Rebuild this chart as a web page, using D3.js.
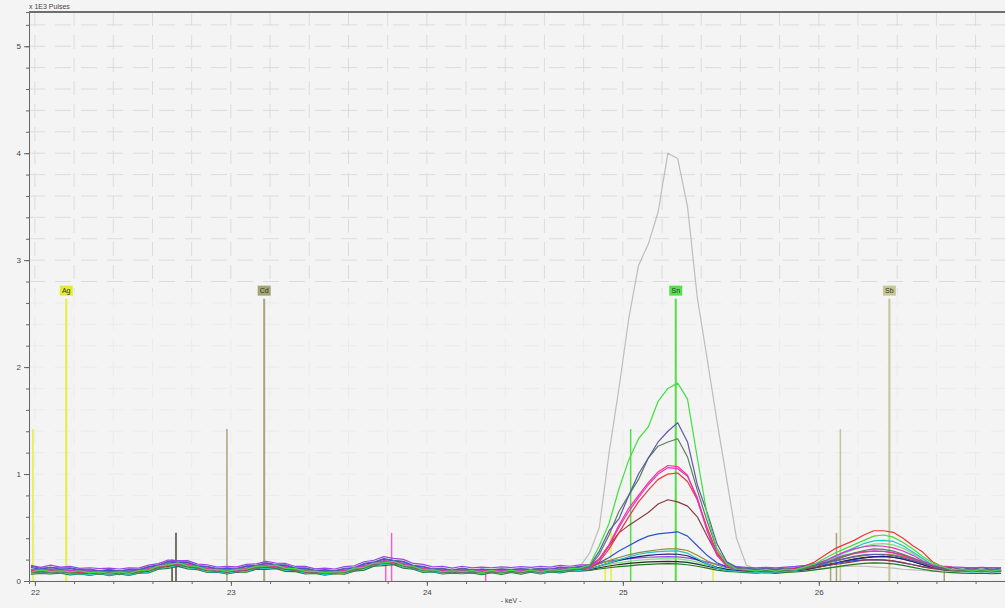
<!DOCTYPE html>
<html>
<head>
<meta charset="utf-8">
<script src="https://cdn.jsdelivr.net/npm/d3@7"></script>
<style>
  body { margin: 0; background: #f4f4f4; }
  svg { display: block; font-family: "Liberation Sans", Arial, sans-serif; }
  .axis text { font-size: 8px; fill: #444; }
  .axis path, .axis line { stroke: #666; }
</style>
</head>
<body>
<svg id="chart" width="1005" height="608"></svg>
<script>
  // channel energies (keV), 0.05 keV apart
  var energy = d3.range(100).map(function(i) { return +(21.98 + i * 0.05).toFixed(2); });

  // pulses per channel, one array per measurement
  var sGray = [100,88,97,84,92,80,86,72,81,70,84,85,110,122,156,150,149,118,110,92,
    98,92,116,122,142,128,124,98,96,80,84,74,92,100,134,146,178,160,152,118,
    110,90,96,80,96,82,90,84,92,86,94,88,96,90,104,104,130,260,500,1200,
    1800,2450,2950,3150,3450,4000,3950,3500,2650,2080,1500,950,400,150,110,98,92,100,96,104,
    110,120,128,136,140,138,132,126,120,110,104,98,92,96,90,94,88,92,90,96];
  var sGreen = [82,104,88,94,86,96,76,86,70,86,72,98,102,142,150,170,142,136,104,108,
    90,108,110,140,138,150,118,116,90,92,76,86,86,120,128,168,170,184,146,138,
    104,106,86,96,88,98,80,100,82,102,84,104,86,106,98,116,120,150,330,540,
    860,1130,1330,1440,1680,1800,1850,1700,1150,620,300,160,112,108,92,110,90,112,104,132,
    160,210,260,300,340,380,420,430,410,360,300,230,170,136,104,112,92,108,90,106];
  var sNavy = [138,118,128,120,124,106,112,96,110,92,110,106,134,150,184,178,178,144,138,116,
    124,118,142,146,170,154,152,122,122,100,106,98,118,126,164,178,210,194,184,146,
    138,114,118,102,120,104,112,106,114,108,116,110,118,112,130,122,138,140,280,470,
    580,800,1000,1150,1300,1400,1480,1300,900,640,350,180,130,118,112,118,112,120,124,136,
    150,170,190,210,230,245,250,248,236,216,190,164,140,120,126,110,122,108,124,114];
  var sSlate = [90,74,92,72,88,70,78,62,76,60,78,74,102,114,148,144,146,112,106,84,
    92,84,110,114,138,122,120,92,94,72,78,68,88,94,130,142,174,158,148,112,
    106,84,90,74,92,76,84,78,86,80,88,82,90,84,100,94,112,130,250,430,
    650,800,950,1150,1260,1300,1330,1160,850,560,300,170,120,100,94,98,92,100,104,118,
    140,170,200,230,260,285,300,295,280,250,215,175,140,116,104,98,94,98,92,96];
  var sMagenta = [110,92,112,94,100,92,96,80,88,80,90,90,118,132,166,160,160,126,120,98,
    106,100,124,130,154,138,134,106,106,84,92,78,102,110,146,160,192,176,166,128,
    122,98,104,88,106,90,98,92,100,94,102,96,104,98,114,106,118,120,200,330,
    500,650,780,900,1000,1060,1050,980,780,480,250,140,110,104,100,104,98,106,110,124,
    150,190,230,270,300,320,330,325,310,280,240,190,150,124,110,104,100,104,98,102];
  var sPink = [96,102,94,100,92,88,84,80,84,78,82,94,110,134,156,164,150,130,110,100,
    98,102,114,132,144,140,124,108,96,88,82,86,94,114,138,164,184,180,158,132,
    114,102,96,92,98,94,90,96,92,98,94,100,96,102,106,110,116,124,210,340,
    520,680,800,920,1020,1080,1070,990,760,470,240,140,112,102,98,102,96,104,108,120,
    140,170,200,230,255,270,280,276,262,236,204,166,134,116,106,100,96,100,94,98];
  var sRed = [86,92,88,94,78,86,70,88,68,84,68,92,96,132,142,160,136,128,98,100,
    84,102,102,130,130,138,110,106,84,88,70,84,82,112,124,162,170,178,144,132,
    102,102,84,92,86,94,78,96,80,98,82,100,84,102,94,110,110,116,180,300,
    450,600,740,850,950,1000,1010,930,760,500,270,150,118,106,102,108,102,110,120,140,
    180,240,300,340,380,430,470,470,455,400,330,270,180,134,126,106,112,104,110,102];
  var sBrown = [100,94,102,96,90,86,82,86,80,84,80,92,108,132,154,160,148,128,110,100,
    96,100,112,130,142,138,122,106,94,86,80,82,92,110,134,160,180,176,154,128,
    110,100,94,90,96,92,88,94,90,96,92,98,94,100,104,110,130,150,200,330,
    450,520,580,640,720,760,740,700,600,420,250,150,112,102,98,102,96,104,108,116,
    126,140,154,168,182,194,200,198,188,172,152,132,116,106,100,96,92,96,90,94];
  var sBlue = [126,108,128,110,116,98,104,96,102,94,104,102,130,144,178,172,172,138,132,110,
    118,112,136,140,164,148,144,116,116,94,100,92,112,120,158,172,204,188,178,140,
    132,110,114,98,116,100,108,102,110,104,112,106,114,108,124,116,128,130,170,220,
    280,330,380,420,440,450,460,420,330,240,170,130,118,112,108,112,106,114,118,126,
    138,152,166,178,190,198,200,196,186,170,152,134,120,112,108,104,100,106,102,108];
  var sCyan = [72,78,74,80,64,72,56,72,54,70,56,78,82,118,128,146,122,114,86,88,
    72,90,90,118,118,126,98,96,74,78,60,74,70,100,112,148,156,164,130,118,
    88,90,72,80,74,82,66,84,68,86,70,88,72,90,82,98,100,110,140,170,
    200,225,250,265,275,280,282,260,210,160,120,100,90,84,80,86,82,90,98,112,
    140,180,230,270,310,350,375,380,370,330,270,210,150,112,96,90,86,90,84,88];
  var sOlive = [110,104,112,106,100,96,92,96,90,94,90,100,116,140,162,168,156,136,118,108,
    104,108,120,138,150,146,130,114,102,94,88,90,100,118,142,168,188,184,162,136,
    118,108,102,98,104,100,96,102,98,104,100,106,102,108,112,116,122,126,160,190,
    220,245,265,280,292,300,300,285,240,190,150,124,112,106,102,106,100,108,112,122,
    140,160,182,204,222,238,248,250,244,228,202,172,142,120,110,106,102,106,100,104];
  var sDarkNavy = [88,82,90,84,80,76,72,76,70,74,70,80,96,120,142,148,136,116,98,88,
    84,90,102,118,130,126,110,94,84,76,70,72,82,100,124,150,170,166,144,120,
    102,92,86,82,88,84,80,86,82,88,84,90,86,92,96,100,108,112,140,168,
    192,212,228,240,248,252,250,236,200,160,128,108,98,92,88,92,86,94,98,108,
    124,144,166,186,204,218,228,230,222,206,182,154,128,108,98,94,90,94,88,92];
  var sLightGreen = [106,100,108,102,96,92,88,92,86,90,86,98,114,138,158,164,152,132,114,104,
    100,104,116,134,146,142,126,110,98,90,84,86,96,114,138,164,182,178,156,132,
    114,104,98,94,100,96,92,98,94,100,96,102,98,104,108,112,118,122,140,158,
    172,184,194,202,206,208,206,196,176,150,128,114,106,100,96,100,94,102,108,120,
    146,180,220,260,295,325,345,350,338,305,258,205,156,122,108,102,98,102,96,100];
  var sBlack = [82,78,84,80,76,72,70,72,66,70,68,78,92,116,136,142,132,112,96,86,
    82,86,98,114,126,122,108,92,82,74,70,70,80,98,120,144,164,160,140,116,
    98,88,82,78,84,80,76,82,78,84,80,86,82,88,92,96,102,106,124,140,
    154,164,172,178,182,184,182,174,158,138,118,104,96,90,86,90,84,92,96,106,
    122,142,164,184,202,216,226,230,222,204,180,152,126,106,96,92,88,92,86,90];
  var sViolet = [146,128,148,130,136,118,124,116,120,112,122,120,148,162,196,190,190,158,152,130,
    138,132,156,160,184,168,164,136,136,114,120,112,134,142,180,194,228,212,202,164,
    156,132,136,120,138,122,130,124,132,126,134,128,136,130,146,138,150,154,170,186,
    198,208,216,222,226,228,226,216,198,176,156,142,134,128,124,128,122,130,136,146,
    164,188,214,240,260,274,280,278,266,244,214,182,156,140,132,128,124,128,122,126];
  var sDarkGreen = [64,72,66,74,58,66,52,68,50,66,52,74,76,110,118,136,114,106,80,82,
    66,82,82,110,108,116,90,88,66,70,54,68,64,92,102,138,144,152,120,110,
    80,84,66,74,68,76,60,78,62,80,64,82,66,84,76,92,92,98,112,124,
    134,142,150,156,160,162,160,152,138,120,102,90,84,78,74,78,72,80,84,92,
    104,116,130,144,156,164,170,168,160,146,128,110,94,84,78,74,70,74,68,72];

  var spectra = [sGray, sDarkGreen, sBlack, sViolet, sLightGreen, sDarkNavy, sOlive, sCyan,
                 sBlue, sBrown, sRed, sPink, sMagenta, sSlate, sNavy, sGreen];
  var spectraColors = ["#bdbdbd", "#1f7a1f", "#2a2a2a", "#9a46e6", "#7ee07e", "#1c1c84", "#8c8c3c", "#26c4c4",
                       "#2d50dc", "#8c3c3c", "#ee3535", "#ff2f8c", "#d23cc8", "#5b7d5b", "#5a5aa8", "#3de03d"];

  // element line markers: energy (keV), height (x1000 pulses)
  var lineElement = ["Ag","Ag","Ag","Ag","Ag","Cd","Cd","Cd","Cd","Cd","Rh","Rh","Pd","Pd","Pd","Sn","Sn","Sb","Sb"];
  var lineEnergy  = [22.16,21.99,24.94,24.91,25.46,23.17,22.98,26.09,26.06,26.64,22.72,22.70,23.82,23.79,24.30,25.27,25.04,26.36,26.11];
  var lineHeight  = [2.64,1.42,0.45,0.22,0.17,2.64,1.42,0.45,0.2,0.13,0.45,0.2,0.45,0.2,0.1,2.64,1.42,2.64,1.42];

  var labelElements = ["Ag","Cd","Sn","Sb"];
  var labelEnergy = [22.16,23.17,25.27,26.36];

  var elementColor = { Ag: "#e6ee3c", Cd: "#a6a67a", Sn: "#55dd44", Sb: "#c4c49a", Rh: "#4a4a30", Pd: "#f060c8" };
  var labelFill = { Ag: "#e2ec2c", Cd: "#a3a575", Sn: "#58e04c", Sb: "#c7c893" };

  var xTicks = [22, 23, 24, 25, 26];
  var yTicks = [0, 1, 2, 3, 4, 5];

  var svg = d3.select("#chart"),
      margin = {top: 12, right: 0, bottom: 27, left: 29},
      width = +svg.attr("width") - margin.left - margin.right,
      height = +svg.attr("height") - margin.top - margin.bottom;

  var x = d3.scaleLinear().domain([21.97, 26.95]).range([0, width]),
      y = d3.scaleLinear().domain([0, 5.32]).range([height, 0]);

  var g = svg.append("g")
      .attr("transform", "translate(" + margin.left + "," + margin.top + ")");

  svg.append("defs").append("clipPath")
      .attr("id", "clip")
    .append("rect")
      .attr("width", width)
      .attr("height", height);

  var xMinor = d3.range(22, 26.95, 0.2),
      yMinor = d3.range(0, 5.32, 0.2);

  // faint dashed background grid, stronger in the upper part
  var split = 2.7;
  var grid = g.append("g").attr("clip-path", "url(#clip)");
  grid.selectAll(".gx")
      .data(xMinor)
    .enter().append("line")
      .attr("x1", function(d) { return x(d); })
      .attr("x2", function(d) { return x(d); })
      .attr("y1", 0)
      .attr("y2", y(split))
      .attr("stroke", "#dcdcdc")
      .attr("stroke-dasharray", "14,9");
  grid.selectAll(".gxl")
      .data(xMinor)
    .enter().append("line")
      .attr("x1", function(d) { return x(d); })
      .attr("x2", function(d) { return x(d); })
      .attr("y1", y(split))
      .attr("y2", height)
      .attr("stroke", "#ebebeb")
      .attr("stroke-dasharray", "14,9");
  grid.selectAll(".gy")
      .data(yMinor)
    .enter().append("line")
      .attr("x1", 0)
      .attr("x2", width)
      .attr("y1", function(d) { return y(d); })
      .attr("y2", function(d) { return y(d); })
      .attr("stroke", function(d) { return d > split ? "#dcdcdc" : "#ebebeb"; })
      .attr("stroke-dasharray", "16,10");

  // element lines
  var marks = g.append("g").attr("clip-path", "url(#clip)");
  marks.selectAll("line")
      .data(lineEnergy)
    .enter().append("line")
      .attr("x1", function(d) { return x(d); })
      .attr("x2", function(d) { return x(d); })
      .attr("y1", y(0))
      .attr("y2", function(d, i) { return y(lineHeight[i]); })
      .attr("stroke", function(d, i) { return elementColor[lineElement[i]]; })
      .attr("stroke-width", function(d, i) { return lineHeight[i] > 2 ? 2 : 1.5; });

  // spectra
  var line = d3.line()
      .x(function(d, i) { return x(energy[i]); })
      .y(function(d) { return y(d / 1000); });

  g.append("g").attr("clip-path", "url(#clip)")
    .selectAll("path")
      .data(spectra)
    .enter().append("path")
      .attr("fill", "none")
      .attr("stroke", function(d, i) { return spectraColors[i]; })
      .attr("stroke-width", 1.2)
      .attr("stroke-linejoin", "round")
      .attr("d", line);

  // element labels
  var lab = g.append("g").selectAll("g")
      .data(labelElements)
    .enter().append("g")
      .attr("transform", function(d, i) { return "translate(" + x(labelEnergy[i]) + "," + (y(2.64) - 8) + ")"; });
  lab.append("rect")
      .attr("x", -6.5).attr("y", -5)
      .attr("width", 13).attr("height", 10)
      .attr("fill", function(d) { return labelFill[d]; });
  lab.append("text")
      .attr("text-anchor", "middle")
      .attr("dy", "0.33em")
      .attr("font-size", 7)
      .attr("fill", "#333")
      .text(function(d) { return d; });

  // axes
  g.append("g")
      .attr("class", "axis")
      .attr("transform", "translate(0," + height + ")")
      .call(d3.axisBottom(x).tickValues(xMinor).tickSize(3).tickFormat(""));
  g.append("g")
      .attr("class", "axis")
      .attr("transform", "translate(0," + height + ")")
      .call(d3.axisBottom(x).tickValues(xTicks).tickSize(5).tickPadding(3).tickFormat(d3.format("d")))
      .call(function(s) { s.select(".domain").remove(); });

  g.append("g")
      .attr("class", "axis")
      .call(d3.axisLeft(y).tickValues(yMinor).tickSize(3).tickFormat(""));
  g.append("g")
      .attr("class", "axis")
      .call(d3.axisLeft(y).tickValues(yTicks).tickSize(5).tickPadding(3).tickFormat(d3.format("d")))
      .call(function(s) { s.select(".domain").remove(); });

  g.append("line")
      .attr("x1", 0).attr("x2", width)
      .attr("y1", 0).attr("y2", 0)
      .attr("stroke", "#6e6e6e")
      .attr("stroke-width", 2);

  svg.append("text")
      .attr("x", 29).attr("y", 9)
      .attr("font-size", 7)
      .attr("fill", "#444")
      .text("x 1E3 Pulses");

  svg.append("text")
      .attr("x", margin.left + x(24.43)).attr("y", 603)
      .attr("text-anchor", "middle")
      .attr("font-size", 7)
      .attr("fill", "#444")
      .text("- keV -");
</script>
</body>
</html>
